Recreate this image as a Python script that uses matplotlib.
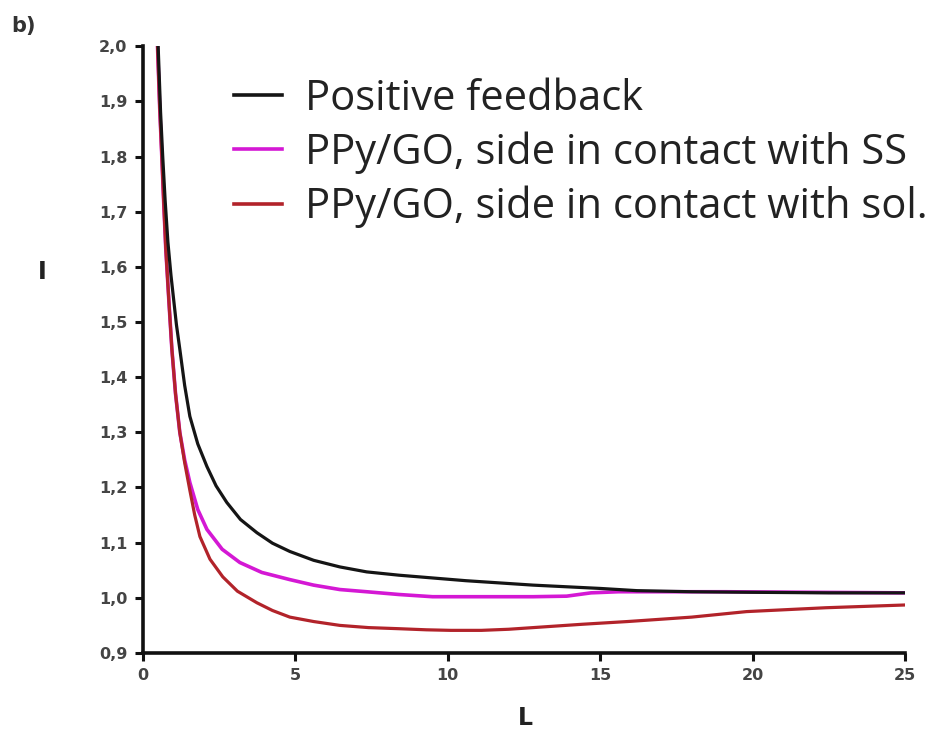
import matplotlib
matplotlib.use("Agg")
import matplotlib.pyplot as plt
from matplotlib.ticker import FuncFormatter

# --- data ---
L_pos = [0.5, 0.58, 0.65, 0.73, 0.82, 0.92, 1.0, 1.1, 1.21, 1.37, 1.54, 1.8, 2.1, 2.4, 2.75,
         3.2, 3.74, 4.25, 4.82, 5.6, 6.46, 7.34, 8.4, 9.5, 10.6, 11.7, 12.8, 13.9, 15.0,
         16.2, 18.0, 20.0, 22.5, 25.0]
I_pos = [2.0, 1.88, 1.80, 1.72, 1.645, 1.585, 1.545, 1.495, 1.451, 1.385, 1.329, 1.279, 1.238,
         1.203, 1.173, 1.142, 1.118, 1.099, 1.084, 1.068, 1.056, 1.047, 1.041, 1.036, 1.031,
         1.027, 1.023, 1.020, 1.017, 1.013, 1.011, 1.010, 1.009, 1.009]

L_ss = [0.48, 0.55, 0.62, 0.68, 0.75, 0.85, 0.95, 1.07, 1.21, 1.37, 1.54, 1.8, 2.1, 2.6,
        3.18, 3.9, 4.82, 5.6, 6.46, 7.34, 8.4, 9.5, 10.6, 11.7, 12.8, 13.9, 14.7, 15.6,
        17.0, 19.1, 22.0, 25.0]
I_ss = [2.0, 1.89, 1.80, 1.72, 1.633, 1.54, 1.451, 1.37, 1.30, 1.25, 1.209, 1.16, 1.124,
        1.088, 1.064, 1.046, 1.033, 1.023, 1.015, 1.011, 1.006, 1.002, 1.002, 1.002, 1.002,
        1.003, 1.009, 1.011, 1.011, 1.011, 1.010, 1.009]

L_sol = [0.48, 0.55, 0.62, 0.68, 0.75, 0.85, 0.95, 1.07, 1.21, 1.37, 1.54, 1.7, 1.87, 2.2,
         2.62, 3.1, 3.74, 4.25, 4.82, 5.6, 6.46, 7.4, 8.4, 9.3, 10.1, 11.1, 12.0, 12.8,
         14.4, 15.9, 18.0, 19.8, 22.4, 25.0]
I_sol = [2.0, 1.89, 1.80, 1.72, 1.633, 1.54, 1.451, 1.37, 1.30, 1.245, 1.195, 1.15, 1.111,
         1.07, 1.038, 1.012, 0.991, 0.977, 0.965, 0.957, 0.950, 0.946, 0.944, 0.942, 0.941,
         0.941, 0.943, 0.946, 0.952, 0.957, 0.965, 0.975, 0.982, 0.987]

labels = ["Positive feedback",
          "PPy/GO, side in contact with SS",
          "PPy/GO, side in contact with sol."]
colors = ["#151515", "#d418d4", "#b2232a"]

x_ticks = [0, 5, 10, 15, 20, 25]
y_ticks = [0.9, 1.0, 1.1, 1.2, 1.3, 1.4, 1.5, 1.6, 1.7, 1.8, 1.9, 2.0]

fig = plt.figure(figsize=(9.34, 7.4), dpi=100)
ax = fig.add_axes([0.153, 0.1176, 0.816, 0.820])

ax.plot(L_pos, I_pos, color=colors[0], lw=2.3, label=labels[0], zorder=3)
ax.plot(L_ss, I_ss, color=colors[1], lw=2.6, label=labels[1], zorder=2)
ax.plot(L_sol, I_sol, color=colors[2], lw=2.3, label=labels[2], zorder=2.5)

ax.set_xlim(0, 25)
ax.set_ylim(0.9, 2.0)
ax.set_xticks(x_ticks)
ax.set_yticks(y_ticks)
ax.xaxis.set_major_formatter(FuncFormatter(lambda v, p: f"{v:.0f}"))
ax.yaxis.set_major_formatter(FuncFormatter(lambda v, p: f"{v:.1f}".replace(".", ",")))

for s in ["top", "right"]:
    ax.spines[s].set_visible(False)
for s in ["left", "bottom"]:
    ax.spines[s].set_linewidth(2.6)
    ax.spines[s].set_color("#111111")
ax.tick_params(direction="out", length=6, width=2.2, color="#111111",
               labelsize=11.5, labelcolor="#444444", pad=5)
for t in ax.get_xticklabels() + ax.get_yticklabels():
    t.set_fontweight("bold")
    t.set_family("DejaVu Sans")

fig.text(0.045, 0.632, "I", fontsize=17, fontweight="bold", color="#222222",
         ha="center", va="center")
fig.text(0.562, 0.030, "L", fontsize=17, fontweight="bold", color="#222222",
         ha="center", va="center")
fig.text(0.012, 0.965, "b)", fontsize=15, fontweight="bold", color="#333333",
         ha="left", va="center")

leg = ax.legend(loc="upper left", bbox_to_anchor=(0.228, 0.923), bbox_transform=fig.transFigure,
                frameon=False, prop={"family": "Open Sans", "size": 30},
                handlelength=1.15, handletextpad=0.55, labelspacing=0.28, borderpad=0)
for t in leg.get_texts():
    t.set_color("#222222")
for h in leg.get_lines():
    h.set_linewidth(2.6)

fig.savefig("out.png", dpi=100)
